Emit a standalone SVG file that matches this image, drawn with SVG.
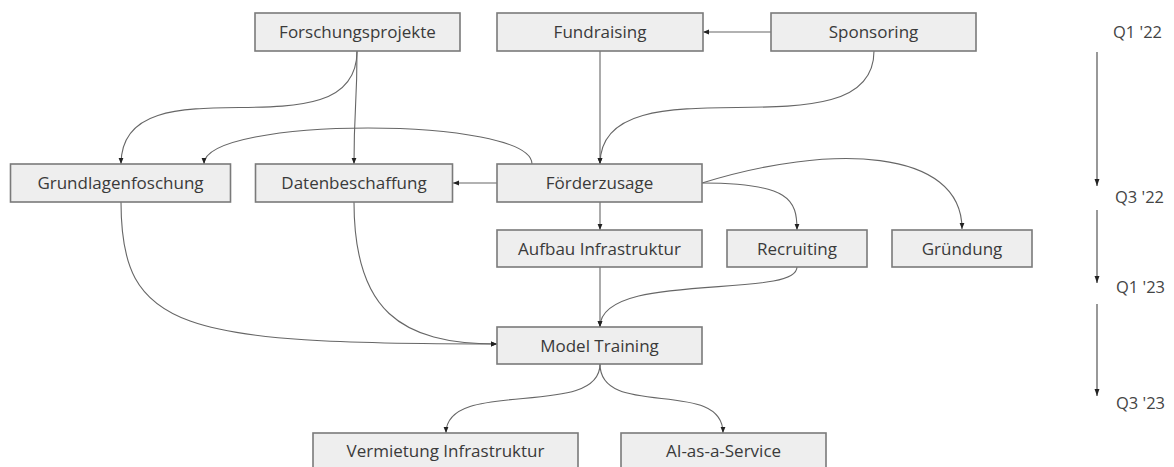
<svg xmlns="http://www.w3.org/2000/svg" width="1174" height="467" viewBox="0 0 1174 467">
<style>
.box rect{fill:#eeeeee;stroke:#7a7a7a;stroke-width:1.6}
.box text{font-family:"Open Sans","Noto Sans",sans-serif;font-size:17px;fill:#3a3a3a;text-anchor:middle}
.edge{fill:none;stroke:#666;stroke-width:1.1;marker-end:url(#ah)}
.tl{fill:none;stroke:#444;stroke-width:1.1;marker-end:url(#ah2)}
.q{font-family:"Open Sans","Noto Sans",sans-serif;font-size:16.5px;fill:#444}
</style>
<defs>
<marker id="ah" viewBox="0 0 10 10" refX="10" refY="5" markerWidth="6" markerHeight="6" markerUnits="userSpaceOnUse" orient="auto"><path d="M0,1 L10,5 L0,9 z" fill="#222"/></marker>
<marker id="ah2" viewBox="0 0 10 10" refX="10" refY="5" markerWidth="7" markerHeight="7" markerUnits="userSpaceOnUse" orient="auto"><path d="M0,1.5 L10,5 L0,8.5 z" fill="#222"/></marker>
</defs>
<rect width="1174" height="467" fill="#fff"/>
<g id="connectors">
<path class="edge" d="M357,51 C357,161 121,54 121,164"/>
<path class="edge" d="M357,51 C357,107 354,107 354,164"/>
<path class="edge" d="M771,32 L703,32"/>
<path class="edge" d="M600,51 L600,164"/>
<path class="edge" d="M874,51 C874,161 600,54 600,164"/>
<path class="edge" d="M532,164 C532,116 204,116 204,164"/>
<path class="edge" d="M497,183 L453,183"/>
<path class="edge" d="M600,202 L600,230"/>
<path class="edge" d="M702,183 C790,183 797,200 797,230"/>
<path class="edge" d="M702,183 C830,143 962,148 962,229"/>
<path class="edge" d="M600,267 L600,327"/>
<path class="edge" d="M797,267 C797,300 600,270 600,327"/>
<path class="edge" d="M121,202 C121,330 180,344 497,344"/>
<path class="edge" d="M354,202 C354,310 400,344 497,344"/>
<path class="edge" d="M600,364 C600,420 446,377 446,433"/>
<path class="edge" d="M600,364 C600,420 723,377 723,433"/>
</g>
<g id="timeline">
<path class="tl" d="M1097,52 L1097,186"/>
<path class="tl" d="M1097,210 L1097,283"/>
<path class="tl" d="M1097,304 L1097,396"/>
<text class="q" x="1113" y="38">Q1 '22</text>
<text class="q" x="1115" y="203">Q3 '22</text>
<text class="q" x="1116" y="293">Q1 '23</text>
<text class="q" x="1116" y="409">Q3 '23</text>
</g>
<g id="n-forschungsprojekte" class="box"><rect x="255" y="13" width="205" height="38"/><text x="357.5" y="38">Forschungsprojekte</text></g>
<g id="n-fundraising" class="box"><rect x="497" y="13" width="206" height="38"/><text x="600" y="38">Fundraising</text></g>
<g id="n-sponsoring" class="box"><rect x="771" y="13" width="205" height="38"/><text x="873.5" y="38">Sponsoring</text></g>
<g id="n-grundlagen" class="box"><rect x="10.5" y="164" width="220" height="38"/><text x="120.5" y="189">Grundlagenfoschung</text></g>
<g id="n-daten" class="box"><rect x="255.5" y="164" width="197" height="38"/><text x="354" y="189">Datenbeschaffung</text></g>
<g id="n-foerderzusage" class="box"><rect x="497" y="164" width="205" height="38"/><text x="599.5" y="189">Förderzusage</text></g>
<g id="n-aufbau" class="box"><rect x="497" y="230" width="205" height="37"/><text x="599.5" y="254.5">Aufbau Infrastruktur</text></g>
<g id="n-recruiting" class="box"><rect x="727" y="230" width="140" height="37"/><text x="797" y="254.5">Recruiting</text></g>
<g id="n-gruendung" class="box"><rect x="892" y="230" width="140" height="37"/><text x="962" y="254.5">Gründung</text></g>
<g id="n-model" class="box"><rect x="497" y="327" width="205" height="37"/><text x="599.5" y="351.5">Model Training</text></g>
<g id="n-vermietung" class="box"><rect x="313" y="433" width="265" height="38"/><text x="445.5" y="457">Vermietung Infrastruktur</text></g>
<g id="n-aiaas" class="box"><rect x="621" y="433" width="205" height="38"/><text x="723.5" y="457">AI-as-a-Service</text></g>
</svg>
